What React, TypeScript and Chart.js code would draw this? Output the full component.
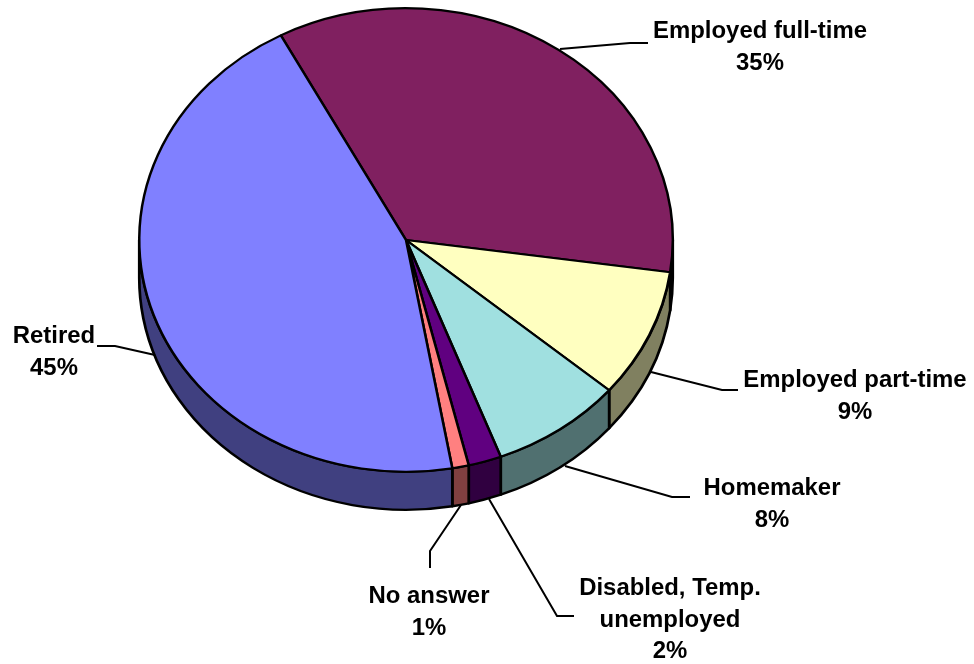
import React, { useEffect, useRef } from "react";
import { Chart, registerables } from "chart.js";

Chart.register(...registerables);

const categories = ["Employed full-time", "Employed part-time", "Homemaker", "Disabled, Temp. unemployed", "No answer", "Retired"];
const labelLines = [["Employed full-time"], ["Employed part-time"], ["Homemaker"], ["Disabled, Temp.", "unemployed"], ["No answer"], ["Retired"]];
const values = [35, 9, 8, 2, 1, 45];
const topColors = ["#802060", "#FFFFC0", "#A0E0E0", "#600080", "#FF8080", "#8080FF"];
const sideColors = ["#401030", "#808060", "#507070", "#300040", "#804040", "#404080"];

const ROTATION = -28;
const CX = 406, CY = 240, RX = 267, RY = 232, DEPTH = 38;
const K = RY / RX;

const labelCenters = [[760, 32], [855, 381], [772, 489], [670, 589], [429, 597], [54, 337]];
const leaders = [
  [[560, 49], [630, 43], [648, 43]],
  [[651, 372], [722, 390], [738, 390]],
  [[565, 466], [672, 497], [690, 497]],
  [[489, 499], [557, 616], [574, 616]],
  [[461, 505], [430, 551], [430, 568]],
  [[155, 355], [115, 346], [97, 346]],
];

const FONT = 'bold 23px "Liberation Sans", Arial, sans-serif';
const TEXT_STRETCH = 1.04;
const LINE_H = 31.5;
const TAU = Math.PI * 2;

const pie3d = {
  id: "pie3d",
  beforeDatasetsDraw(chart: any) {
    const ctx = chart.ctx;
    const arcs = chart.getDatasetMeta(0).data;
    const a0 = arcs[0];
    ctx.save();
    ctx.translate(CX, CY);
    ctx.scale(1, K);
    ctx.translate(-a0.x, -a0.y);
    // extruded rim, visible only on the front half of the ellipse
    const dy = DEPTH / K;
    arcs.forEach((arc: any, i: number) => {
      let s = arc.startAngle % TAU;
      let e = arc.endAngle % TAU;
      if (s < 0) s += TAU;
      if (e < 0) e += TAU;
      if (e < s) e += TAU;
      const ranges = [[s, e], [s - TAU, e - TAU]];
      ranges.forEach(([rs, re]) => {
        const from = Math.max(rs, 0);
        const to = Math.min(re, Math.PI);
        if (to <= from) return;
        ctx.beginPath();
        ctx.arc(arc.x, arc.y + dy, arc.outerRadius, from, to);
        ctx.arc(arc.x, arc.y, arc.outerRadius, to, from, true);
        ctx.closePath();
        ctx.fillStyle = sideColors[i];
        ctx.fill();
        ctx.lineWidth = 2.7;
        ctx.strokeStyle = "#000";
        ctx.lineJoin = "round";
        ctx.stroke();
      });
    });
  },
  afterDatasetsDraw(chart: any) {
    const ctx = chart.ctx;
    ctx.restore();
    ctx.save();
    ctx.strokeStyle = "#000";
    ctx.lineWidth = 2;
    leaders.forEach((pts) => {
      ctx.beginPath();
      pts.forEach(([x, y], j) => (j ? ctx.lineTo(x, y) : ctx.moveTo(x, y)));
      ctx.stroke();
    });
    ctx.fillStyle = "#000";
    ctx.font = FONT;
    ctx.textAlign = "center";
    ctx.textBaseline = "middle";
    labelLines.forEach((lines, i) => {
      const [x, y] = labelCenters[i];
      [...lines, `${values[i]}%`].forEach((t, j) => {
        ctx.save();
        ctx.translate(x, y + j * LINE_H);
        ctx.scale(TEXT_STRETCH, 1);
        ctx.fillText(t, 0, 0);
        ctx.restore();
      });
    });
    ctx.restore();
  },
};

export default function App() {
  const ref = useRef<HTMLCanvasElement>(null);
  useEffect(() => {
    const chart = new Chart(ref.current!, {
      type: "pie",
      data: {
        labels: categories,
        datasets: [{ data: values, backgroundColor: topColors, borderColor: "#000", borderWidth: 2.5, borderAlign: "center" } as any],
      },
      options: {
        responsive: false,
        animation: false,
        rotation: ROTATION,
        layout: { padding: { left: 138, right: 300, top: 64, bottom: 64 } },
        plugins: { legend: { display: false }, tooltip: { enabled: false } },
      },
      plugins: [pie3d],
    } as any);
    return () => chart.destroy();
  }, []);
  return (
    <div style={{ position: "absolute", left: 0, top: 0, width: 974, height: 664, background: "#fff" }}>
      <canvas ref={ref} width={974} height={664} style={{ display: "block" }} />
    </div>
  );
}
